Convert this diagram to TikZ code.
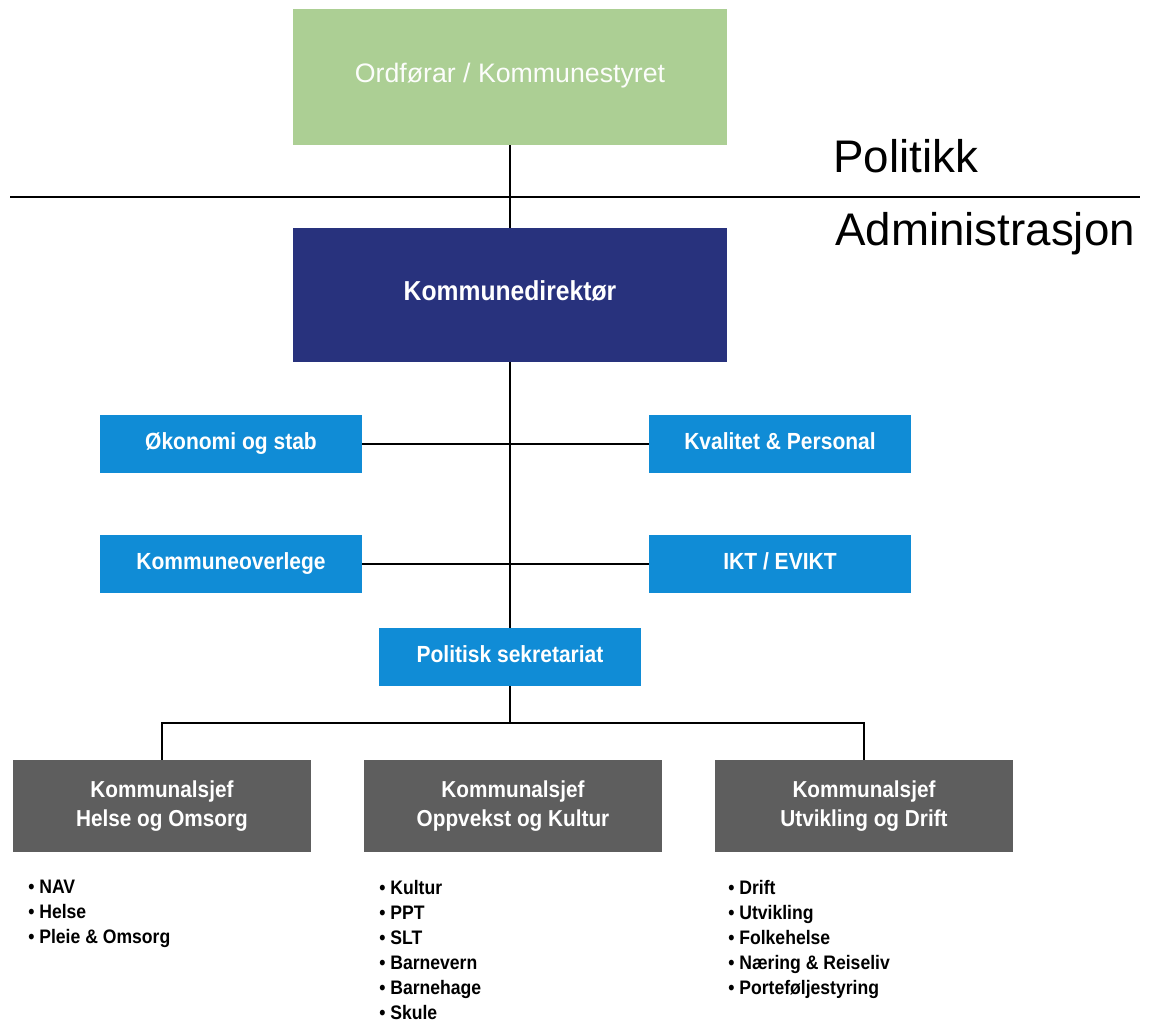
\documentclass[tikz,border=0pt]{standalone}
\usepackage{fontspec}
\setmainfont{Liberation Sans}
\newfontfamily\boxfont{Liberation Sans}[FakeStretch=0.9]
\definecolor{orggreen}{RGB}{172,207,148}
\definecolor{orgnavy}{RGB}{40,50,125}
\definecolor{orgblue}{RGB}{16,140,214}
\definecolor{orggray}{RGB}{94,94,94}
\begin{document}
\begin{tikzpicture}[x=0.025cm, y=-0.025cm,
    line/.style={draw=black, line width=1.3pt},
    oneline/.style={text height=0.72em, text depth=0pt},
    topbox/.style={oneline, fill=orggreen, text=white!96!orggreen, minimum width=10.85cm, minimum height=3.4cm,
      font=\fontsize{19}{23}\selectfont},
    dirbox/.style={oneline, fill=orgnavy, text=white, minimum width=10.85cm, minimum height=3.35cm,
      font={\boxfont\bfseries\fontsize{19.5}{23}\selectfont}},
    staffbox/.style={oneline, fill=orgblue, text=white, minimum width=6.55cm, minimum height=1.45cm,
      font={\boxfont\bfseries\fontsize{16.6}{20}\selectfont}},
    chiefbox/.style={fill=orggray, text=white, minimum width=7.425cm, minimum height=2.3cm, align=center,
      font={\boxfont\bfseries\fontsize{16.4}{20.5}\selectfont}},
    listtext/.style={anchor=north west, align=left, inner sep=0pt,
      font={\boxfont\bfseries\fontsize{13.9}{17.8}\selectfont}},
    sidelabel/.style={anchor=base west, inner sep=0pt, font=\fontsize{32.5}{38}\selectfont}]
  \useasboundingbox (0,0) rectangle (1152,1024);

  \node[topbox] (ord) at (510,77) {Ordførar / Kommunestyret};
  \node[dirbox] (dir) at (510,295) {Kommunedirektør};
  \node[staffbox] (oko) at (231,444) {Økonomi og stab};
  \node[staffbox] (kval) at (780,444) {Kvalitet \& Personal};
  \node[staffbox] (overlege) at (231,564) {Kommuneoverlege};
  \node[staffbox] (ikt) at (780,564) {IKT / EVIKT};
  \node[staffbox] (sekr) at (510,657) {Politisk sekretariat};
  \node[chiefbox] (helse) at (162,806) {Kommunalsjef\\Helse og Omsorg};
  \node[chiefbox] (oppvekst) at (513,806) {Kommunalsjef\\Oppvekst og Kultur};
  \node[chiefbox] (utvikling) at (864,806) {Kommunalsjef\\Utvikling og Drift};

  \node[sidelabel] (politikk) at (833,173) {Politikk};
  \node[sidelabel] (admin) at (835,246) {Administrasjon};
  \coordinate (divleft) at (10,197);
  \coordinate (divright) at (1140,197);
  \draw[line] (divleft) -- (divright);

  \draw[line] (ord.south) -- (dir.north);
  \draw[line] (dir.south) -- (sekr.north);
  \draw[line] (oko.east) -- (kval.west);
  \draw[line] (overlege.east) -- (ikt.west);
  \coordinate (bar) at (510,723);
  \draw[line] (sekr.south) -- (bar);
  \draw[line] (helse.north) |- (bar) -| (utvikling.north);

  \node[listtext] (helselist) at (28,880) {\textbullet\ NAV\\\textbullet\ Helse\\\textbullet\ Pleie \& Omsorg};
  \node[listtext] (oppvekstlist) at (379,880) {\textbullet\ Kultur\\\textbullet\ PPT\\\textbullet\ SLT\\\textbullet\ Barnevern\\\textbullet\ Barnehage\\\textbullet\ Skule};
  \node[listtext] (utviklinglist) at (728,880) {\textbullet\ Drift\\\textbullet\ Utvikling\\\textbullet\ Folkehelse\\\textbullet\ Næring \& Reiseliv\\\textbullet\ Porteføljestyring};
\end{tikzpicture}
\end{document}
